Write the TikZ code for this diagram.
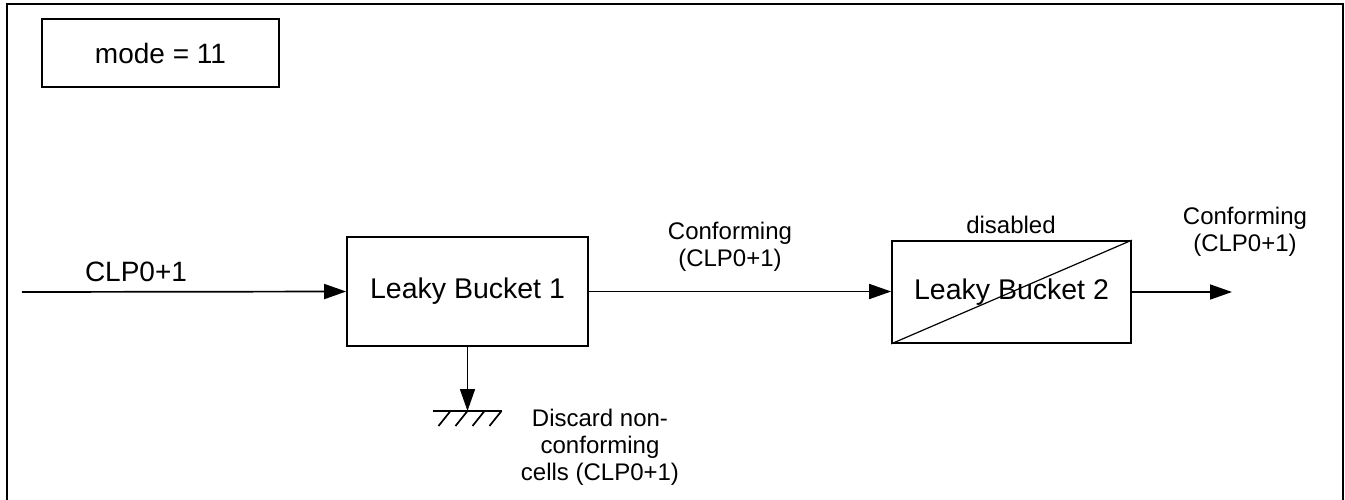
\documentclass[tikz,border=0pt]{standalone}
\usepackage{fontspec}
\setmainfont{Liberation Sans}
\usetikzlibrary{arrows.meta}
\begin{document}
\begin{tikzpicture}[x=1pt,y=-1pt,
  line width=1.7pt,
  flow/.style={-{Triangle[length=22pt,width=15pt]}},
  blk/.style={draw,minimum width=241pt,minimum height=109pt,inner sep=0pt,font=\fontsize{28.5}{32}\selectfont},
  lbl/.style={font=\fontsize{24}{27}\selectfont,align=center,inner sep=0pt}]
\useasboundingbox (0,0) rectangle (1345,499);
% open frame
\draw (7,505) -- (7,4) -- (1343,4) -- (1343,505);
% mode box
\node[draw,line width=1.1pt,minimum width=237pt,minimum height=68pt,inner sep=0pt,font=\fontsize{28}{32}\selectfont] (mode) at (160.5,53) {mode = 11};
% buckets
\node[blk] (lb1) at (467.5,291.5) {Leaky Bucket 1};
\node[blk,minimum width=239pt,minimum height=102pt] (lb2) at (1011.5,292) {Leaky Bucket 2};
\draw[line width=1.2pt] (lb2.south west) -- (lb2.north east);
% connectors
\coordinate (in) at (22,292);
\coordinate (out) at (1232,292);
\coordinate (gnd) at (467.5,411);
\draw[flow] (in) -- (lb1.west);
\draw[flow] (lb1.east) -- (lb2.west |- lb1.east);
\draw[flow] (lb2.east) -- (out);
\draw[flow] (lb1.south) -- (gnd);
% ground symbol
\draw (gnd) ++(-35,0) -- ++(69,0);
\foreach \dx in {-17,0,17,34}
  \draw (gnd) ++(\dx,0) -- ++(-12,15);
% labels
\node[inner sep=0pt,font=\fontsize{28}{32}\selectfont] (lin) at (136,272) {CLP0+1};
\node[lbl] (lmid) at (730,247) {Conforming\\(CLP0+1)};
\node[lbl] (ldis) at (1011,225) {disabled};
\node[lbl] (lout) at (1245,232) {Conforming\\(CLP0+1)};
\node[lbl] (ldrop) at (600,447) {Discard non-\\conforming\\cells (CLP0+1)};
\end{tikzpicture}
\end{document}
